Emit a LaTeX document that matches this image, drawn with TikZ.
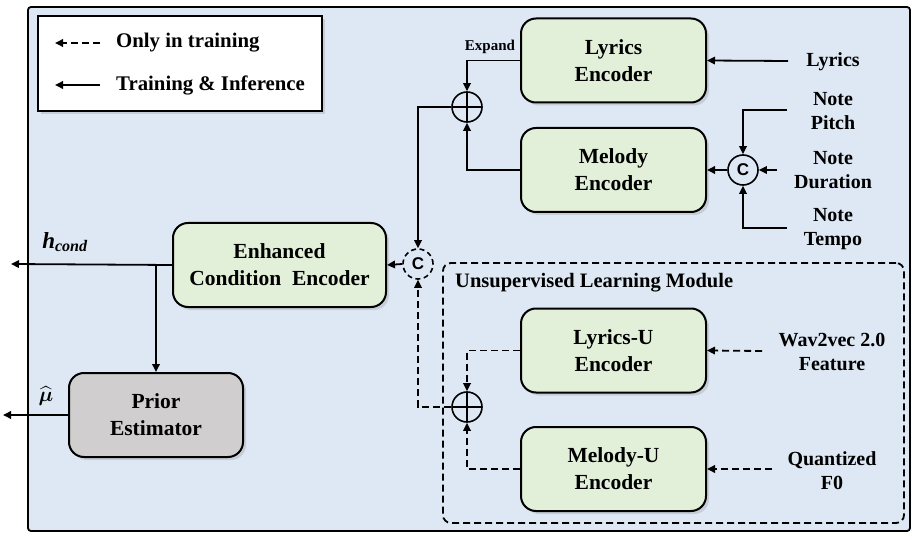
\documentclass[tikz,border=0pt]{standalone}
\usepackage{amsmath}
\usepackage{bm}
\usepackage{fontspec}
\setmainfont{Liberation Serif}
\newfontfamily\sansC{Liberation Sans}
\usetikzlibrary{arrows.meta,shadows}
\definecolor{bgblue}{HTML}{DEE8F4}
\definecolor{boxgreen}{HTML}{E2EFD9}
\definecolor{boxgray}{HTML}{D0CECE}
\begin{document}
\begin{tikzpicture}[x=1pt,y=-1pt,
  enc/.style={draw,line width=2pt,rounded corners=15pt,fill=boxgreen,
    minimum width=185pt,minimum height=84pt,align=center,inner sep=0pt,
    font=\fontsize{21.5}{27}\selectfont\bfseries,
    drop shadow={opacity=0.25,shadow xshift=3pt,shadow yshift=-3pt}},
  lbl/.style={align=center,font=\fontsize{20}{24}\selectfont\bfseries,inner sep=0pt},
  arr/.style={line width=1.8pt,-{Triangle[length=8pt,width=7.5pt]}},
  dsh/.style={dash pattern=on 7pt off 4pt},
  plusc/.style={circle,draw,line width=1.6pt,minimum size=30pt,inner sep=0pt,
    path picture={\draw[line width=1.6pt] (path picture bounding box.north)--(path picture bounding box.south)
      (path picture bounding box.west)--(path picture bounding box.east);}},
  catc/.style={circle,draw,line width=1.6pt,minimum size=30pt,inner sep=0pt,
    font=\sansC\fontsize{17}{17}\selectfont\bfseries}
]
\useasboundingbox (0,0) rectangle (916,540);
% background
\node[draw,line width=1.8pt,fill=bgblue,rounded corners=3pt,minimum width=882pt,minimum height=524pt,inner sep=0pt] (bg) at (469,269) {};
% legend
\node[draw,line width=1.8pt,fill=white,minimum width=284pt,minimum height=95pt,inner sep=0pt,
  drop shadow={opacity=0.25,shadow xshift=3pt,shadow yshift=-3pt}] (leg) at (180,63.5) {};
\coordinate (l1a) at (100,43); \coordinate (l1b) at (55,43);
\coordinate (l2a) at (100,85); \coordinate (l2b) at (55,85);
\draw[arr,dsh] (l1a) -- (l1b);
\draw[arr] (l2a) -- (l2b);
\node[lbl,anchor=west,font=\fontsize{20.8}{24}\selectfont\bfseries] (lt1) at (116,43) {Only in training};
\node[lbl,anchor=west,font=\fontsize{20.8}{24}\selectfont\bfseries] (lt2) at (116,85) {Training \& Inference};
% unsupervised box
\node[draw,line width=1.8pt,dsh,rounded corners=8pt,minimum width=461pt,minimum height=260pt,inner sep=0pt] (ulm) at (673.5,393) {};
\node[lbl,anchor=west,font=\fontsize{20.5}{24}\selectfont\bfseries] (ulmt) at (455,283) {Unsupervised Learning Module};
% encoders
\node[enc] (lyr) at (613.5,60.5) {Lyrics\\Encoder};
\node[enc] (mel) at (613.5,170) {Melody\\Encoder};
\node[enc,minimum width=213pt] (ece) at (279.5,265) {Enhanced\\Condition\ \ Encoder};
\node[enc,fill=boxgray,minimum width=174pt] (pri) at (156,415) {Prior\\Estimator};
\node[enc] (lu) at (613.5,350.5) {Lyrics-U\\Encoder};
\node[enc] (mu) at (613.5,469) {Melody-U\\Encoder};
% operators
\node[plusc] (p1) at (467,107) {};
\node[plusc] (p2) at (467,407) {};
\node[catc] (cm) at (743,170) {C};
\node[catc,dash pattern=on 5pt off 3.5pt] (cc) at (418,264) {C};
% input labels
\node[lbl] (tly) at (833,62) {Lyrics};
\node[lbl] (tnp) at (833,111) {Note\\Pitch};
\node[lbl] (tnd) at (833,170.5) {Note\\Duration};
\node[lbl] (tnt) at (833,229.5) {Note\\Tempo};
\node[lbl] (tw) at (832,352) {Wav2vec 2.0\\Feature};
\node[lbl] (tq) at (832,470.5) {Quantized\\F0};
\node[lbl,font=\fontsize{15}{15}\selectfont\bfseries] (texp) at (490,47) {Expand};
\node[inner sep=0pt,font=\fontsize{23}{23}\selectfont\bfseries\itshape] (thc) at (65,242) {h\textsubscript{cond}};
\node[inner sep=0pt,font=\fontsize{21}{21}\selectfont] (tmu) at (46,396) {$\bm{\widehat{\mu}}$};
% input coordinates
\coordinate (ily) at (788,61);
\coordinate (inp) at (787,110);
\coordinate (ind) at (777,170);
\coordinate (int) at (787,228);
\coordinate (iw) at (762,351);
\coordinate (iq) at (772,469);
\coordinate (o1) at (11,264);
\coordinate (o2) at (3,415);
\coordinate (br) at (156,264);
% solid connectors
\draw[arr] (ily) -- (lyr.east);
\draw[arr] (inp) -| (cm.north);
\draw[arr] (ind) -- (cm.east);
\draw[arr] (int) -| (cm.south);
\draw[arr] (cm.west) -- (mel.east);
\draw[arr] (lyr.west) -| (p1.north);
\draw[arr] (mel.west) -| (p1.south);
\draw[arr] (p1.west) -| (cc.north);
\draw[arr] (cc.west) -- (ece.east);
\draw[arr] (ece.west) -- (o1);
\draw[arr] (br) -- (pri.north);
\draw[arr] (pri.west) -- (o2);
% dashed connectors
\draw[arr,dsh] (iw) -- (lu.east);
\draw[arr,dsh] (iq) -- (mu.east);
\draw[arr,dsh] (lu.west) -| (p2.north);
\draw[arr,dsh] (mu.west) -| (p2.south);
\draw[arr,dsh] (p2.west) -| (cc.south);
\end{tikzpicture}
\end{document}
